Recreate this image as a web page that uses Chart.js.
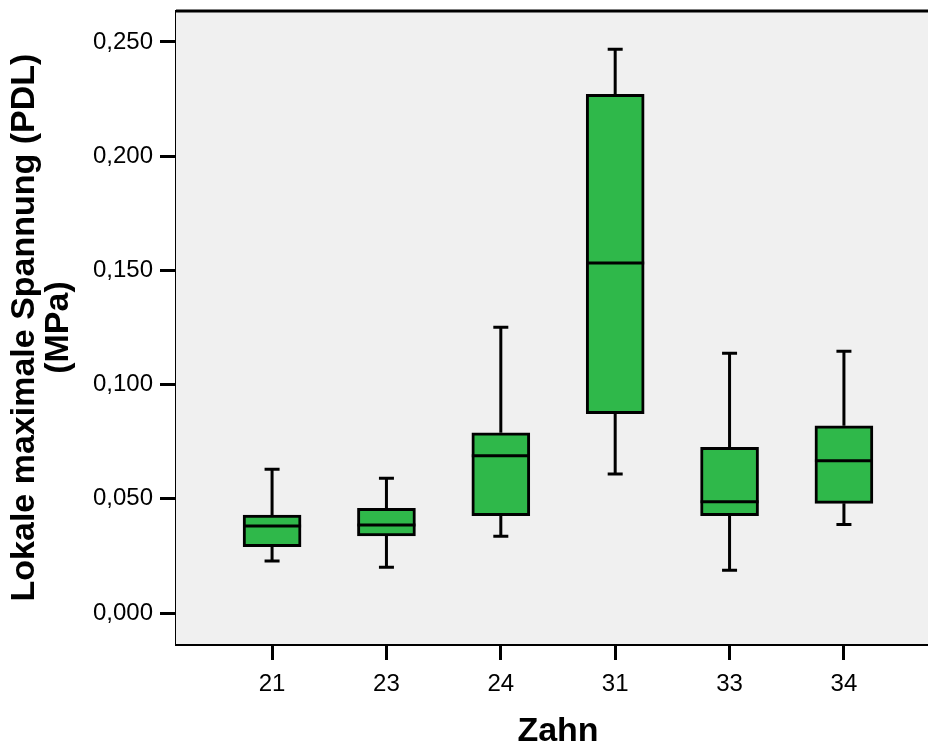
<!DOCTYPE html>
<html>
<head>
<meta charset="utf-8">
<script src="https://cdn.jsdelivr.net/npm/chart.js@4"></script>
<style>
  html,body{margin:0;padding:0;background:#fff;overflow:hidden}
  #wrap{width:940px;height:748px;position:relative}
</style>
</head>
<body>
<div id="wrap"><canvas id="boxChart"></canvas></div>
<script>
// Zahn boxplot

const categories  = ["21","23","24","31","33","34"];
const whiskerLow  = [0.0228,0.0200,0.0336,0.0609,0.0187,0.0388];
const q1          = [0.0290,0.0337,0.0426,0.0873,0.0426,0.0480];
const median      = [0.0381,0.0385,0.0689,0.1532,0.0487,0.0667];
const q3          = [0.0429,0.0458,0.0789,0.2271,0.0725,0.0820];
const whiskerHigh = [0.0629,0.0590,0.1251,0.2468,0.1137,0.1146];
const yTicks      = [0,0.05,0.10,0.15,0.20,0.25];

const FONT = "'Liberation Sans', Arial, sans-serif";
const BOX_W = 58, CAP_W = 15, LW = 3;

const plotFrame = {
  id:"plotFrame",
  beforeDatasetsDraw(chart){
    const a=chart.chartArea, c=chart.ctx;
    c.save(); c.fillStyle="#f0f0f0";
    c.fillRect(a.left,a.top,a.right-a.left,a.bottom-a.top);
    c.restore();
  },
  afterDatasetsDraw(chart){
    const c=chart.ctx, x=chart.scales.x, y=chart.scales.y;
    c.save();
    c.strokeStyle="#000"; c.lineWidth=LW; c.lineCap="butt";
    categories.forEach((_,i)=>{
      const px=x.getPixelForValue(i);
      const yl=y.getPixelForValue(whiskerLow[i]), yh=y.getPixelForValue(whiskerHigh[i]);
      const y1=y.getPixelForValue(q1[i]), y3=y.getPixelForValue(q3[i]), ym=y.getPixelForValue(median[i]);
      c.beginPath();
      c.moveTo(px,y3); c.lineTo(px,yh);
      c.moveTo(px-CAP_W/2,yh); c.lineTo(px+CAP_W/2,yh);
      c.moveTo(px,y1); c.lineTo(px,yl);
      c.moveTo(px-CAP_W/2,yl); c.lineTo(px+CAP_W/2,yl);
      c.moveTo(px-BOX_W/2,ym); c.lineTo(px+BOX_W/2,ym);
      c.stroke();
    });
    const a=chart.chartArea;
    c.beginPath(); c.moveTo(a.left,a.top); c.lineTo(a.right,a.top); c.stroke();
    c.restore();
  }
};

new Chart(document.getElementById("boxChart").getContext("2d"), {
  type:"bar",
  data:{
    datasets:[{
      data: categories.map((_,i)=>({x:i, y:[q1[i],q3[i]]})),
      backgroundColor:"#2fb84a", borderColor:"#000", borderWidth:LW,
      borderSkipped:false, barThickness:BOX_W
    }]
  },
  options:{
    responsive:true, maintainAspectRatio:false, animation:false,
    layout:{padding:{top:11,left:0,right:0,bottom:0}},
    plugins:{legend:{display:false},tooltip:{enabled:false}},
    scales:{
      x:{
        type:"linear", min:-0.84, max:5.84, offset:false,
        afterBuildTicks:s=>{ s.ticks = categories.map((_,i)=>({value:i})); },
        afterFit:s=>{ s.height = 104; s.paddingLeft = 0; s.paddingRight = 0; },
        grid:{offset:false, drawOnChartArea:false, drawTicks:true, tickLength:16, tickWidth:LW, tickColor:"#000"},
        border:{display:true, color:"#000", width:LW},
        ticks:{color:"#000", font:{family:FONT,size:24}, padding:10, maxRotation:0, autoSkip:false,
               callback:v=>categories[v]},
        title:{display:true, text:"Zahn", color:"#000", font:{family:FONT,size:34,weight:"bold",lineHeight:1.1},
               padding:{top:0,bottom:-2}}
      },
      y:{
        min:-0.01357, max:0.26357,
        afterBuildTicks:s=>{ s.ticks = yTicks.map(v=>({value:v})); },
        afterFit:s=>{ s.width = 176; s.paddingTop = 0; s.paddingBottom = 0; },
        grid:{drawOnChartArea:false, drawTicks:true, tickLength:16, tickWidth:LW, tickColor:"#000"},
        border:{display:true, color:"#000", width:LW},
        ticks:{color:"#000", font:{family:FONT,size:24}, padding:7,
               callback:v=>v.toFixed(3).replace(".",",")},
        title:{display:true, text:["Lokale maximale Spannung (PDL)","(MPa)"], color:"#000",
               font:{family:FONT,size:34,weight:"bold",lineHeight:1.02}, padding:{top:7,bottom:0}}
      }
    }
  },
  plugins:[plotFrame]
});
</script>
</body>
</html>
